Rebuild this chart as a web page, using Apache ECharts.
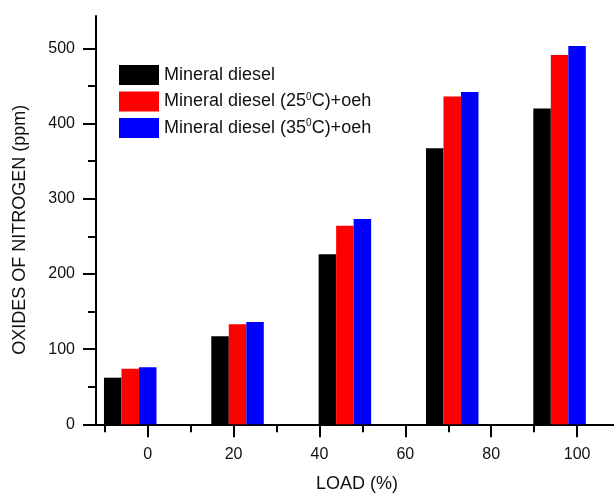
<!DOCTYPE html>
<html>
<head>
<meta charset="utf-8">
<script src="https://cdn.jsdelivr.net/npm/echarts@6/dist/echarts.min.js"></script>
<style>
html,body{margin:0;padding:0;background:#fff;}
#main{width:614px;height:496px;}
</style>
</head>
<body>
<div id="main"></div>
<script>
// ---- data ----
const loads = [0, 25, 50, 75, 100];
const mineralDiesel = [62, 117, 226, 367, 420];
const oeh25 = [74, 133, 264, 436, 491];
const oeh35 = [76, 136, 273, 442, 503];
const xTickLabels = [0, 20, 40, 60, 80, 100];
const yTickLabels = [0, 100, 200, 300, 400, 500];
const seriesNames = ['Mineral diesel', 'Mineral diesel (25\u2070C)+oeh', 'Mineral diesel (35\u2070C)+oeh'];

const FONT = '"Liberation Sans", Arial, sans-serif';
const XMIN = -12.05, XMAX = 108.6;
const BAR_W = 17.5;
const BAR_SHIFT = 4.08; // group centre offset (one bar width in axis units)

const chart = echarts.init(document.getElementById('main'), null, {renderer: 'canvas'});

function pairs(vals) { return loads.map((l, i) => [l, vals[i]]); }

const option = {
  backgroundColor: '#fff',
  animation: false,
  grid: {left: 96, right: 0, top: 16, bottom: 71.7, outerBoundsMode: 'none', containLabel: false},
  legend: {
    orient: 'vertical', left: 119, top: 65, padding: 0,
    itemWidth: 40, itemHeight: 20, itemGap: 6.5,
    icon: 'rect',
    data: seriesNames,
    formatter: name => name.replace('\u2070', '{sup|0}'),
    textStyle: {
      fontFamily: FONT, fontSize: 18, color: '#111',
      rich: {sup: {fontFamily: FONT, fontSize: 10, color: '#111', padding: [0, 0, 9, 0]}}
    }
  },
  xAxis: [{
    type: 'value', min: XMIN, max: XMAX, splitNumber: 5,
    name: 'LOAD (%)', nameLocation: 'middle', nameGap: 51,
    nameTextStyle: {fontFamily: FONT, fontSize: 18, color: '#111', padding: [0, 0, 0, 4]},
    axisLine: {show: true, onZero: false, lineStyle: {color: '#000', width: 2}},
    axisTick: {show: true, length: 13, inside: false, customValues: xTickLabels, lineStyle: {color: '#000', width: 2}},
    minorTick: {show: true, splitNumber: 2, length: 8, lineStyle: {color: '#000', width: 2}},
    axisLabel: {margin: 22, fontFamily: FONT, fontSize: 16, color: '#111', customValues: xTickLabels},
    splitLine: {show: false}, minorSplitLine: {show: false}
  }, {
    type: 'value', min: XMIN + BAR_SHIFT, max: XMAX + BAR_SHIFT, show: false,
    splitLine: {show: false}
  }],
  yAxis: {
    type: 'value', min: 0, max: 543, splitNumber: 5,
    name: 'OXIDES OF NITROGEN (ppm)', nameLocation: 'middle', nameGap: 67,
    nameTextStyle: {fontFamily: FONT, fontSize: 18, color: '#111', padding: [0, 19, 0, 0]},
    axisLine: {show: true, onZero: false, lineStyle: {color: '#000', width: 2}},
    axisTick: {show: true, length: 13, inside: false, customValues: yTickLabels, lineStyle: {color: '#000', width: 2}},
    minorTick: {show: true, splitNumber: 2, length: 8, lineStyle: {color: '#000', width: 2}},
    axisLabel: {margin: 21, fontFamily: FONT, fontSize: 16, color: '#111', customValues: yTickLabels},
    splitLine: {show: false}, minorSplitLine: {show: false}
  },
  series: [
    {name: seriesNames[0], type: 'bar', xAxisIndex: 1, barWidth: BAR_W, barGap: '0%', data: pairs(mineralDiesel), itemStyle: {color: '#000000'}},
    {name: seriesNames[1], type: 'bar', xAxisIndex: 1, barWidth: BAR_W, barGap: '0%', data: pairs(oeh25), itemStyle: {color: '#ff0000'}},
    {name: seriesNames[2], type: 'bar', xAxisIndex: 1, barWidth: BAR_W, barGap: '0%', data: pairs(oeh35), itemStyle: {color: '#0000ff'}}
  ]
};
chart.setOption(option);
</script>
</body>
</html>
